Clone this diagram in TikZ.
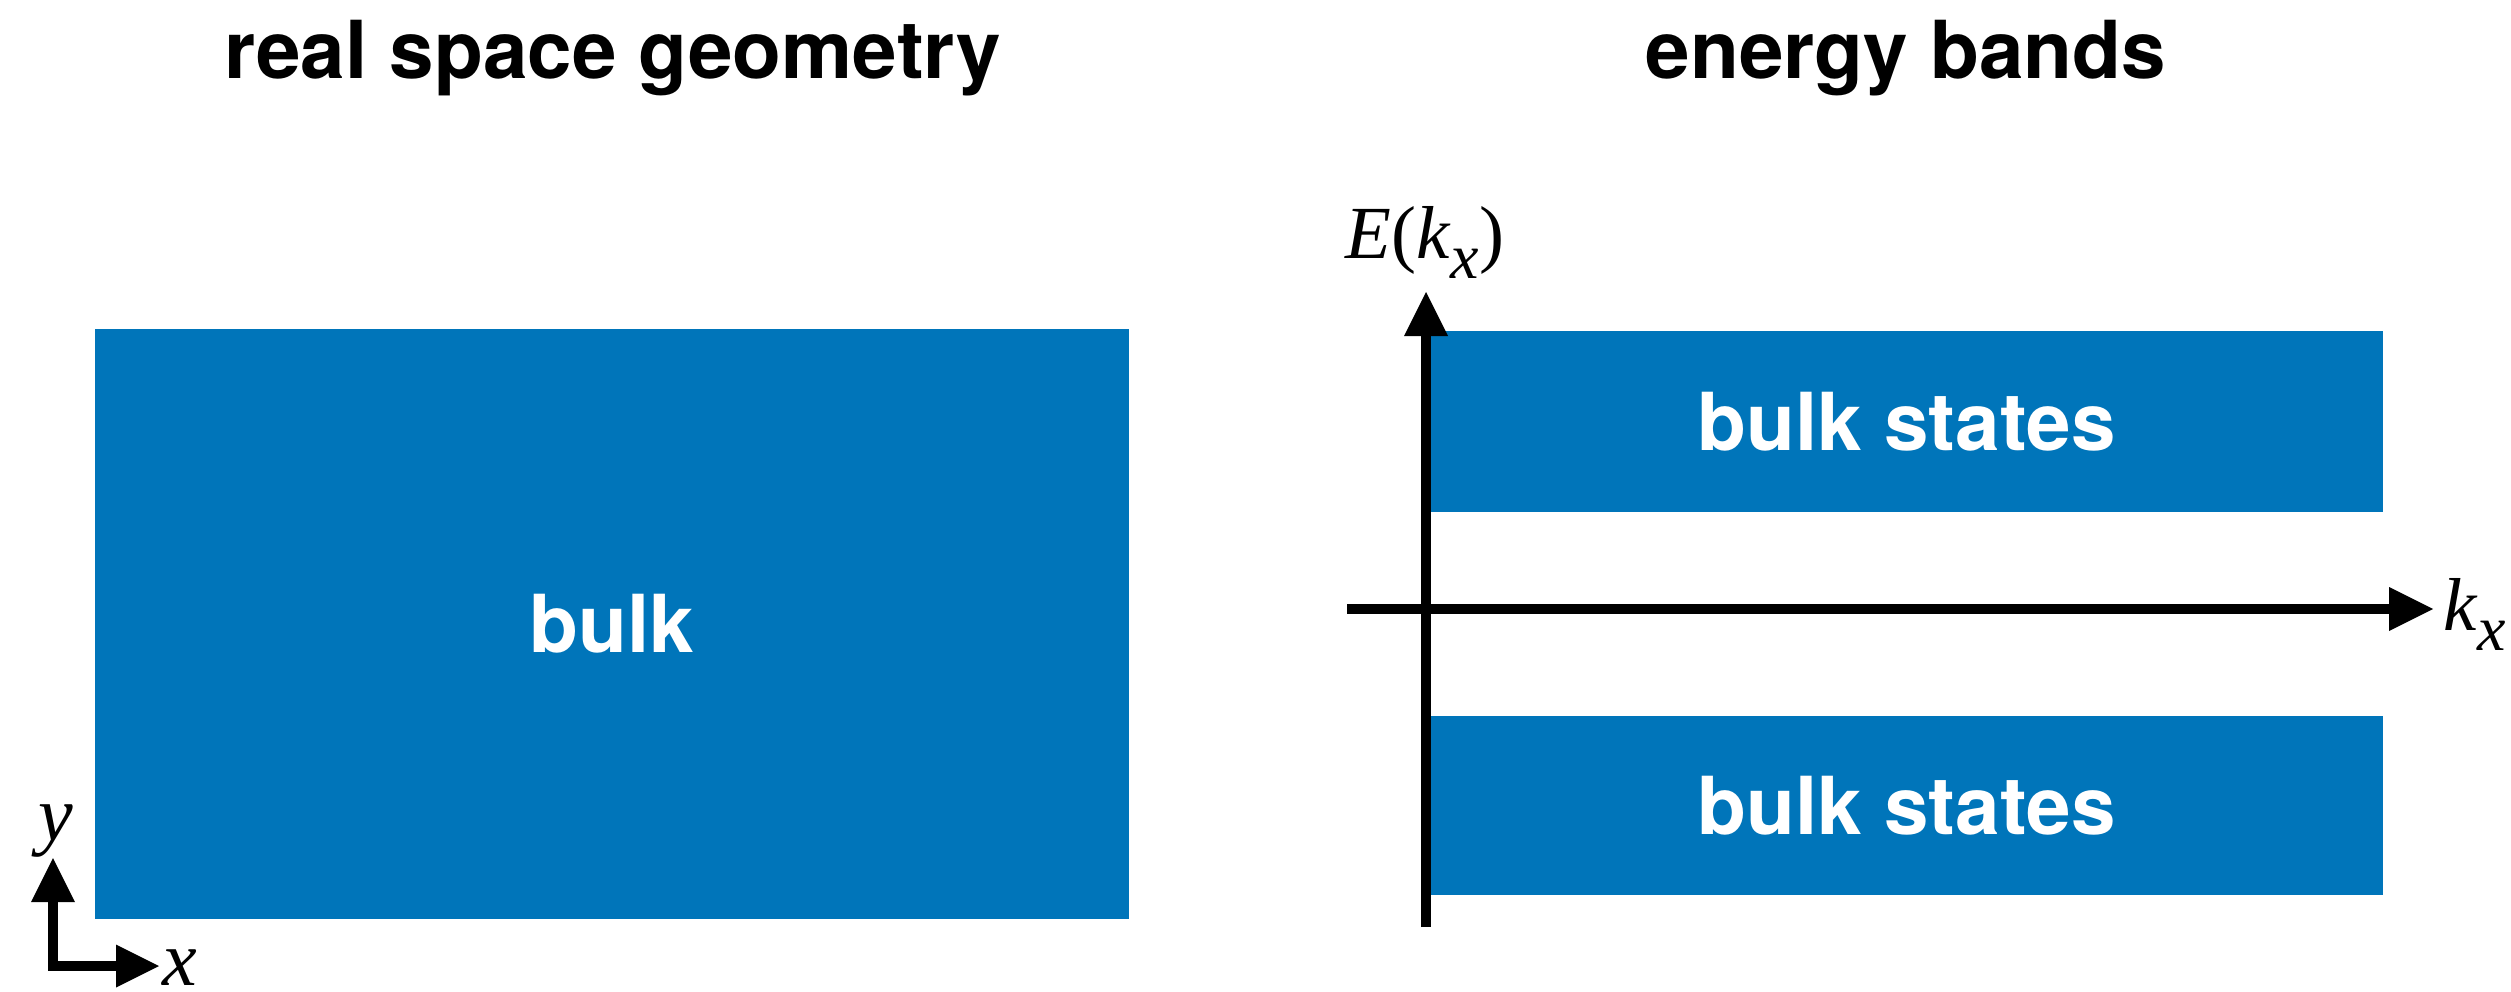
\documentclass[tikz,border=0pt]{standalone}
\usepackage{fontspec}
\setmainfont{Liberation Serif}
\setsansfont{TeX Gyre Heros}
\usetikzlibrary{arrows.meta}
\definecolor{bandblue}{RGB}{0,117,186}
\begin{document}
\begin{tikzpicture}[x=1pt,y=-1pt,
  titletext/.style={font=\sffamily\bfseries\fontsize{80}{90}\selectfont, inner sep=0, anchor=base},
  bluebox/.style={fill=bandblue, draw=none, text=white, font=\sffamily\bfseries\fontsize{80}{90}\selectfont, inner sep=0},
  tip/.style={Triangle[length=44pt,width=44pt,line width=0pt]},
  axisline/.style={line width=10pt, -{Triangle[length=44pt,width=44pt,line width=0pt]}},
  lab/.style={font=\fontsize{75}{80}\selectfont, inner sep=0}]
\useasboundingbox (0,0) rectangle (2511,991);

% titles
\node[titletext] (t1) at (613,78) {real space geometry};
\node[titletext] (t2) at (1906,78) {energy bands};

% left panel
\node[bluebox, minimum width=1034pt, minimum height=590pt] (bulk) at (612,624) {bulk};

\coordinate (corner) at (53,966);
\coordinate (ytip) at (53,858);
\coordinate (xtip) at (159,966);
\draw[line width=10pt, line join=miter,
  {Triangle[length=44pt,width=44pt,line width=0pt]}-{Triangle[length=43pt,width=43pt,line width=0pt]}]
  (ytip) -- (corner) -- (xtip);
\node[lab, font=\fontsize{78}{80}\selectfont, anchor=base] (ylab) at (56,840) {\textit{y}};
\node[lab, font=\fontsize{78}{80}\selectfont, anchor=base] (xlab) at (180,985) {\textit{x}};

% right panel
\node[bluebox, minimum width=953pt, minimum height=181pt] (top) at (1906.5,421.5) {bulk states};
\node[bluebox, minimum width=953pt, minimum height=179pt] (bot) at (1906.5,805.5) {bulk states};

\coordinate (hstart) at (1347,609);
\coordinate (hend) at (2433,609);
\coordinate (vstart) at (1426,927);
\coordinate (vend) at (1426,292);
\draw[axisline] (hstart) -- (hend);
\draw[axisline] (vstart) -- (vend);

\node[lab, anchor=base] (elab) at (1425,258)
  {\textit{E}(\textit{k}\raisebox{-20pt}{\fontsize{64}{70}\selectfont\textit{x}})};
\node[lab, anchor=base west] (klab) at (2443,630)
  {\textit{k}\raisebox{-20pt}{\fontsize{64}{70}\selectfont\textit{x}}};
\end{tikzpicture}
\end{document}
